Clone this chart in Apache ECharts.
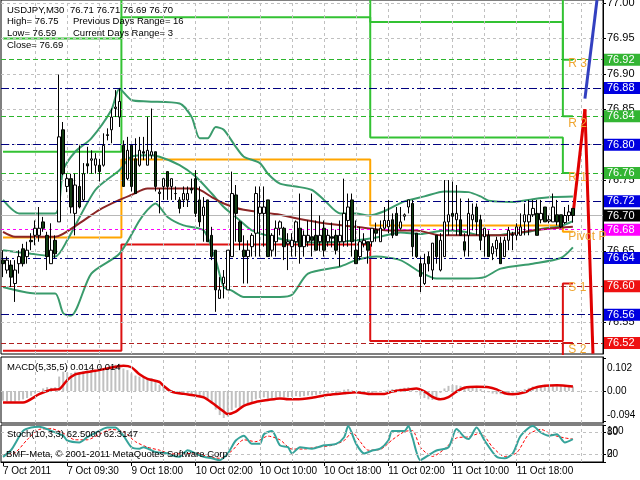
<!DOCTYPE html>
<html><head><meta charset="utf-8">
<script src="https://cdn.jsdelivr.net/npm/echarts@6/dist/echarts.min.js"></script>
<style>html,body{margin:0;padding:0;background:#fff}#c{width:640px;height:480px}</style>
</head><body><div id="c"></div>
<script>
// ---------- DATA ----------
const tickLabels = ['7 Oct 2011','7 Oct 09:30','9 Oct 18:00','10 Oct 02:00','10 Oct 10:00','10 Oct 18:00','11 Oct 02:00','11 Oct 10:00','11 Oct 18:00'];
const opens = [76.637,76.623,76.630,76.604,76.632,76.653,76.642,76.665,76.672,76.672,76.691,76.672,76.632,76.665,76.691,76.821,76.741,76.752,76.703,76.741,
76.722,76.773,76.778,76.771,76.771,76.771,76.814,76.821,76.851,76.839,76.799,76.752,76.799,76.780,76.771,76.790,76.771,76.785,76.790,76.731,
76.741,76.762,76.741,76.731,76.722,76.722,76.722,76.738,76.752,76.722,76.700,76.722,76.672,76.651,76.583,76.604,76.595,76.642,76.729,76.691,
76.651,76.642,76.656,76.675,76.703,76.703,76.722,76.651,76.663,76.682,76.682,76.660,76.656,76.663,76.682,76.656,76.663,76.670,76.672,76.663,
76.682,76.663,76.670,76.672,76.663,76.663,76.693,76.722,76.651,76.642,76.660,76.663,76.663,76.680,76.663,76.682,76.684,76.694,76.703,76.682,
76.699,76.712,76.717,76.675,76.632,76.604,76.642,76.623,76.672,76.623,76.642,76.691,76.703,76.694,76.694,76.663,76.672,76.694,76.712,76.694,
76.670,76.672,76.646,76.653,76.661,76.642,76.665,76.673,76.672,76.672,76.691,76.691,76.701,76.703,76.694,76.712,76.692,76.691,76.701,76.701,
76.690,76.700,76.710];
const highs = [76.651,76.642,76.637,76.637,76.651,76.660,76.663,76.675,76.693,76.712,76.698,76.677,76.689,76.672,76.899,76.832,76.759,76.759,76.759,76.799,
76.774,76.797,76.792,76.788,76.780,76.816,76.823,76.851,76.877,76.879,76.806,76.811,76.799,76.809,76.811,76.811,76.839,76.851,76.790,76.738,
76.752,76.762,76.752,76.741,76.726,76.741,76.741,76.752,76.764,76.741,76.726,76.722,76.684,76.651,76.613,76.623,76.651,76.762,76.743,76.693,
76.672,76.665,76.675,76.741,76.741,76.741,76.722,76.675,76.693,76.693,76.684,76.675,76.675,76.693,76.731,76.679,76.693,76.731,76.693,76.700,
76.693,76.680,76.690,76.680,76.693,76.752,76.731,76.731,76.693,76.684,76.675,76.663,76.682,76.690,76.693,76.712,76.722,76.703,76.712,76.712,
76.703,76.722,76.722,76.675,76.642,76.646,76.649,76.661,76.672,76.675,76.750,76.750,76.748,76.743,76.724,76.675,76.724,76.717,76.717,76.701,
76.682,76.679,76.661,76.670,76.670,76.670,76.684,76.677,76.689,76.703,76.717,76.722,76.722,76.722,76.722,76.712,76.700,76.731,76.722,76.701,
76.712,76.715,76.710];
const lows = [76.613,76.618,76.599,76.578,76.618,76.628,76.632,76.651,76.658,76.663,76.677,76.623,76.632,76.640,76.691,76.757,76.733,76.703,76.672,76.710,
76.720,76.759,76.759,76.759,76.748,76.769,76.806,76.802,76.839,76.825,76.741,76.750,76.734,76.731,76.769,76.778,76.771,76.780,76.734,76.703,
76.722,76.722,76.722,76.722,76.703,76.712,76.712,76.731,76.698,76.684,76.663,76.663,76.637,76.564,76.583,76.583,76.595,76.642,76.663,76.651,
76.604,76.604,76.642,76.642,76.642,76.656,76.642,76.642,76.642,76.672,76.637,76.623,76.642,76.642,76.632,76.642,76.656,76.642,76.651,76.650,
76.642,76.656,76.655,76.645,76.628,76.656,76.656,76.642,76.632,76.637,76.655,76.632,76.656,76.663,76.663,76.680,76.675,76.668,76.672,76.680,
76.693,76.703,76.642,76.640,76.592,76.602,76.621,76.609,76.632,76.621,76.642,76.672,76.679,76.672,76.672,76.642,76.642,76.679,76.672,76.651,
76.642,76.642,76.637,76.642,76.632,76.642,76.651,76.651,76.665,76.672,76.672,76.672,76.698,76.672,76.689,76.691,76.689,76.691,76.686,76.682,
76.688,76.692,76.690];
const closes = [76.632,76.637,76.613,76.623,76.642,76.632,76.651,76.663,76.682,76.682,76.682,76.642,76.651,76.646,76.811,76.759,76.752,76.712,76.743,76.712,
76.759,76.770,76.780,76.780,76.762,76.799,76.813,76.839,76.853,76.861,76.741,76.792,76.741,76.731,76.792,76.788,76.792,76.790,76.741,76.733,
76.752,76.741,76.752,76.731,76.710,76.731,76.731,76.736,76.703,76.691,76.712,76.663,76.642,76.595,76.595,76.613,76.651,76.731,76.703,76.663,
76.642,76.651,76.672,76.731,76.712,76.712,76.642,76.672,76.682,76.691,76.656,76.663,76.665,76.691,76.656,76.672,76.672,76.665,76.651,76.672,
76.651,76.672,76.668,76.651,76.672,76.703,76.712,76.663,76.632,76.663,76.665,76.651,76.682,76.675,76.682,76.693,76.693,76.672,76.672,76.691,
76.701,76.722,76.656,76.642,76.614,76.632,76.632,76.661,76.642,76.665,76.691,76.701,76.699,76.703,76.672,76.651,76.703,76.701,76.691,76.665,
76.682,76.642,76.656,76.665,76.632,76.665,76.679,76.672,76.684,76.684,76.701,76.701,76.710,76.672,76.703,76.691,76.694,76.712,76.691,76.684,
76.700,76.705,76.700];

// Bollinger bands and moving average, read at selected bars: [bar, price]
const bandUpper = [[0,76.722],[4,76.703],[13,76.703],[15,76.764],[18,76.790],[22,76.809],[27,76.849],[29,76.879],[32,76.863],[36,76.861],[44,76.858],[47,76.839],[49,76.809],[51,76.809],[53,76.825],[55,76.821],[58,76.797],[60,76.783],[64,76.774],[66,76.759],[69,76.745],[73,76.741],[77,76.736],[80,76.722],[84,76.703],[88,76.703],[91,76.700],[95,76.706],[100,76.720],[105,76.727],[110,76.734],[116,76.733],[119,76.727],[121,76.721],[127,76.719],[132,76.723],[137,76.726],[142,76.727]];
const bandMiddle = [[0,76.651],[7,76.646],[13,76.642],[16,76.665],[23,76.736],[29,76.764],[32,76.783],[36,76.785],[39,76.783],[44,76.771],[48,76.755],[52,76.731],[55,76.712],[59,76.693],[62,76.679],[67,76.670],[73,76.663],[80,76.662],[88,76.665],[94,76.670],[99,76.676],[104,76.674],[110,76.679],[115,76.677],[119,76.672],[123,76.672],[127,76.675],[131,76.677],[135,76.682],[139,76.685],[142,76.692]];
const bandLower = [[0,76.599],[8,76.590],[13,76.590],[15,76.562],[17,76.559],[22,76.618],[29,76.646],[34,76.693],[36,76.708],[38,76.717],[41,76.698],[45,76.686],[50,76.679],[53,76.637],[55,76.599],[57,76.594],[60,76.585],[69,76.585],[72,76.588],[76,76.618],[84,76.628],[88,76.637],[93,76.642],[99,76.637],[104,76.620],[108,76.611],[116,76.611],[120,76.613],[124,76.625],[132,76.632],[139,76.640],[142,76.655]];
const maLine = [[0,76.677],[3,76.670],[13,76.670],[19,76.689],[24,76.708],[29,76.722],[32,76.729],[36,76.738],[40,76.738],[48,76.738],[52,76.726],[55,76.717],[60,76.708],[69,76.701],[73,76.696],[80,76.689],[88,76.684],[96,76.679],[103,76.679],[109,76.672],[124,76.672],[132,76.679],[142,76.684]];

// Daily pivot levels (first bar of each day)
const dayStart = [0, 30, 92, 140];
const pivotP = [76.669, 76.779, 76.686, 76.677];
const res1 = [76.79, 76.98, 76.81, 76.76];
const res2 = [76.95, 77.10, 76.973, 76.84];
const res3 = [77.07, 77.22, 77.10, 76.92];
const sup1 = [76.509, 76.659, 76.523, 76.604];
const sup2 = [76.388, 76.459, 76.399, 76.52];

// Current-day level lines
const levelValues = [76.92, 76.88, 76.84, 76.80, 76.76, 76.72, 76.70, 76.68, 76.64, 76.60, 76.56, 76.52];
const levelKinds  = ['R','M','R','M','R','M','B','P','M','S','M','S'];
const levelNames = ['R 3','R 2','R 1','Pivot P','S 1','S 2'];
const levelNamePrices = [76.915, 76.829, 76.754, 76.670, 76.598, 76.510];
const gridPrices = [76.55,76.60,76.65,76.70,76.75,76.80,76.85,76.90,76.95,77.00];

// Drawn arrows: [bar, price]
const redPath = [[142,76.70],[145,76.85],[147,76.505]];
const bluePath = [[145,76.865],[148,77.004]];

// MACD(5,35,5)
const macdMain = [-0.030,-0.032,-0.034,-0.033,-0.030,-0.026,-0.022,-0.015,-0.008,0.000,0.008,0.012,0.010,0.012,0.045,0.060,0.058,0.056,0.060,0.058,
0.062,0.064,0.066,0.065,0.066,0.070,0.072,0.078,0.082,0.085,0.070,0.065,0.055,0.048,0.045,0.042,0.040,0.040,0.030,0.020,
0.012,0.008,0.003,-0.002,-0.006,-0.008,-0.008,-0.010,-0.014,-0.018,-0.020,-0.028,-0.040,-0.058,-0.075,-0.084,-0.080,-0.060,-0.052,-0.050,
-0.046,-0.040,-0.034,-0.026,-0.022,-0.020,-0.024,-0.022,-0.020,-0.018,-0.020,-0.020,-0.018,-0.016,-0.018,-0.016,-0.014,-0.014,-0.012,-0.010,
-0.008,-0.006,-0.004,-0.006,-0.004,0.004,0.006,0.002,-0.004,-0.006,-0.006,-0.008,-0.006,-0.004,-0.002,0.002,0.004,0.006,0.006,0.008,
0.010,0.012,0.006,-0.004,-0.014,-0.022,-0.026,-0.028,-0.020,-0.006,0.008,0.016,0.019,0.018,0.016,0.014,0.012,0.012,0.010,0.006,
0.000,-0.004,-0.008,-0.010,-0.010,-0.010,-0.008,-0.006,-0.002,0.002,0.006,0.010,0.014,0.016,0.016,0.016,0.016,0.015,0.016,0.015,
0.014,0.014,0.014];
const macdSignal = [[0,-0.036],[5,-0.036],[9,-0.010],[12,0.004],[14,0.006],[16,0.034],[18,0.052],[20,0.057],[23,0.063],[26,0.070],[30,0.079],[32,0.074],[34,0.052],[36,0.038],[39,0.028],[40,0.016],[42,-0.002],[45,-0.009],[48,-0.015],[50,-0.020],[52,-0.036],[55,-0.064],[56,-0.072],[58,-0.064],[60,-0.046],[63,-0.034],[66,-0.028],[69,-0.023],[71,-0.026],[73,-0.026],[77,-0.021],[81,-0.012],[85,-0.007],[88,-0.004],[91,-0.009],[95,-0.009],[97,-0.002],[101,0.005],[103,0.008],[105,-0.001],[107,-0.018],[109,-0.026],[111,-0.019],[113,-0.002],[115,0.010],[118,0.013],[121,0.012],[123,0.005],[125,-0.007],[127,-0.010],[130,-0.004],[132,0.008],[135,0.016],[138,0.018],[142,0.014]];
const macdTicks = [0.102, 0, -0.094];

// Stochastic(10,3,3)
const stochMain = [[0,14],[2,32],[5,84],[7,93],[9,95],[11,89],[12,84],[15,71],[16,58],[19,53],[21,67],[24,84],[26,93],[28,93],[30,71],[32,40],[34,36],[35,40],[38,27],[41,23],[42,18],[44,14],[46,32],[48,23],[50,14],[52,10],[54,5],[56,23],[58,58],[60,71],[62,49],[64,49],[65,75],[67,84],[69,45],[71,40],[72,23],[74,40],[77,36],[80,45],[83,49],[85,67],[86,97],[88,49],[90,23],[92,31],[94,36],[96,58],[97,84],[100,84],[101,97],[102,67],[104,5],[106,18],[108,31],[111,40],[113,89],[115,67],[116,62],[118,93],[120,58],[123,14],[125,10],[127,23],[129,71],[132,97],[134,80],[136,71],[138,75],[140,53],[142,62]];
const stochSignal = [[0,20],[3,25],[6,60],[9,88],[12,90],[15,78],[18,60],[21,60],[24,75],[27,88],[30,82],[33,55],[36,40],[39,32],[42,22],[45,22],[48,24],[51,15],[54,10],[57,30],[60,60],[63,55],[66,70],[69,60],[72,35],[75,35],[78,40],[82,45],[85,58],[87,80],[89,55],[91,32],[94,34],[97,60],[100,82],[102,85],[104,40],[107,15],[110,35],[113,65],[116,68],[119,78],[122,40],[125,15],[128,25],[131,75],[134,88],[137,73],[140,65],[142,62]];
const stochEdgeTicks = [0, 100];
const stochLevelTicks = [20, 80];

// ---------- BUILD ----------
const N = 150, labelStep = 16, gridStep = 8;
const cats = Array.from({length: N}, (_, i) => 'b' + i);
const FONT = 'Liberation Sans';
const dayOf = i => { let d = 0; dayStart.forEach((s, k) => { if (i >= s) d = k; }); return d; };
const stepData = arr => opens.map((_, i) => arr[dayOf(i)]);
const candleData = opens.map((o, i) => [o, closes[i], lows[i], highs[i]]);
const vLines = [];
for (let i = gridStep; i < N; i += gridStep) vLines.push({xAxis: i});
const gridLine = {color: '#C0C0C0', type: [3, 3], width: 1};
const kindStyle = {
  R: {c: '#2DB52D', t: [5, 3], box: '#33B533'},
  M: {c: '#000080', t: [8, 3, 2, 3], box: '#0000E0'},
  B: {c: '#B8B8B8', t: 'solid', box: '#000000'},
  P: {c: '#FF00FF', t: [3, 3], box: '#FF00FF'},
  S: {c: '#B02020', t: [5, 3], box: '#EE1111'}
};
const levelMarks = levelValues.map((v, k) => {
  const s = kindStyle[levelKinds[k]];
  return {yAxis: v, lineStyle: {color: s.c, type: s.t, width: 1},
    label: {show: true, position: 'end', distance: 1, formatter: v.toFixed(2), color: '#fff', backgroundColor: s.box,
      fontFamily: FONT, fontSize: 11, padding: [1, 6, 0, 3], width: 27}};
});
const nameMarks = levelNamePrices.map((p, k) => ({coord: [140, p], name: levelNames[k]}));
const arrowSeg = (path, color) => {
  const segs = [];
  for (let k = 0; k < path.length - 1; k++)
    segs.push([{coord: path[k], lineStyle: {color, width: 3, type: 'solid'}}, {coord: path[k + 1]}]);
  return segs;
};
const stepSeries = (arr, color) => ({type: 'line', xAxisIndex: 0, yAxisIndex: 0, data: stepData(arr), step: 'middle',
  symbol: 'none', clip: true, z: 3, lineStyle: {color, width: 2}, silent: true});
const lineSeries = (data, color, width, xi, z, extra) => Object.assign({type: 'line', xAxisIndex: xi, yAxisIndex: xi, data,
  symbol: 'none', smooth: 0.25, clip: true, z, silent: true, lineStyle: {color, width}}, extra || {});

const baseX = (gi, showLabels) => ({
  type: 'category', gridIndex: gi, data: cats, boundaryGap: true,
  axisLine: {show: showLabels, lineStyle: {color: '#000'}},
  axisTick: {show: showLabels, alignWithLabel: true, length: 4, interval: i => i % labelStep === 0 && i / labelStep < tickLabels.length, lineStyle: {color: '#000'}},
  axisLabel: {show: showLabels, interval: i => i % labelStep === 0 && i / labelStep < tickLabels.length,
    formatter: (v, i) => tickLabels[i / labelStep] || '', align: 'left', margin: 4, color: '#000', fontFamily: FONT, fontSize: 10, hideOverlap: false},
  splitLine: {show: false}
});
const axisLbl = {color: '#000', fontFamily: FONT, fontSize: 10, margin: 4, hideOverlap: false};

const option = {
  animation: false,
  backgroundColor: '#fff',
  textStyle: {fontFamily: FONT},
  title: [
    {text: 'USDJPY,M30', left: 7, top: 5},
    {text: '76.71 76.71 76.69 76.70', left: 70, top: 5},
    {text: 'High= 76.75', left: 7, top: 16},
    {text: 'Previous Days Range= 16', left: 73, top: 16},
    {text: 'Low= 76.59', left: 7, top: 28},
    {text: 'Current Days Range= 3', left: 73, top: 28},
    {text: 'Close= 76.69', left: 7, top: 40},
    {text: 'MACD(5,35,5) 0.014 0.014', left: 7, top: 362},
    {text: 'Stoch(10,3,3) 62.5000 62.3147', left: 7, top: 429},
    {text: 'BMF-Meta, \u00A9 2001-2011 MetaQuotes Software Corp.', left: 6, top: 449}
  ].map(t => Object.assign({padding: 0, z: 20, textStyle: {fontSize: 9.5, fontWeight: 'normal', color: '#000', fontFamily: FONT}}, t)),
  grid: [
    {left: 1, top: 0, width: 602, height: 354, show: true, borderColor: '#000', borderWidth: 1, backgroundColor: 'transparent', outerBoundsMode: 'none'},
    {left: 1, top: 357, width: 602, height: 66, show: true, borderColor: '#000', borderWidth: 1, backgroundColor: 'transparent', outerBoundsMode: 'none'},
    {left: 1, top: 425, width: 602, height: 37, show: true, borderColor: '#000', borderWidth: 1, backgroundColor: 'transparent', outerBoundsMode: 'none'}
  ],
  xAxis: [baseX(0, false), baseX(1, false), baseX(2, true)],
  yAxis: [
    {type: 'value', gridIndex: 0, position: 'right', min: 76.5045, max: 77.0042, scale: true,
      axisLine: {show: true, lineStyle: {color: '#000'}}, splitLine: {show: false},
      axisTick: {show: true, length: 3, customValues: gridPrices, lineStyle: {color: '#000'}},
      axisLabel: Object.assign({}, axisLbl, {customValues: gridPrices, formatter: v => v.toFixed(2), fontSize: 11})},
    {type: 'value', gridIndex: 1, position: 'right', min: -0.0997, max: 0.1059,
      axisLine: {show: true, lineStyle: {color: '#000'}}, splitLine: {show: false},
      axisTick: {show: true, length: 3, customValues: macdTicks, lineStyle: {color: '#000'}},
      axisLabel: Object.assign({}, axisLbl, {customValues: macdTicks,
        formatter: v => v > 0 ? '{dn|' + v.toFixed(3) + '}' : v < 0 ? '{up|' + v.toFixed(3) + '}' : '0.00',
        rich: {dn: {padding: [20, 0, 0, 0], fontSize: 10, color: '#000'}, up: {padding: [0, 0, 12, 0], fontSize: 10, color: '#000'}}})},
    {type: 'value', gridIndex: 2, position: 'right', min: 0, max: 100,
      axisLine: {show: true, lineStyle: {color: '#000'}}, splitLine: {show: false},
      axisTick: {show: true, length: 3, customValues: stochEdgeTicks, lineStyle: {color: '#000'}},
      axisLabel: Object.assign({}, axisLbl, {customValues: stochEdgeTicks, showMinLabel: true, showMaxLabel: true,
        formatter: v => v === 100 ? '{dn|100}' : '{up|0}',
        rich: {dn: {padding: [12, 0, 0, 0], fontSize: 10, color: '#000'}, up: {padding: [0, 0, 16, 0], fontSize: 10, color: '#000'}}})},
    {type: 'value', gridIndex: 2, position: 'right', min: 0, max: 100,
      axisLine: {show: false}, splitLine: {show: false},
      axisTick: {show: true, length: 3, customValues: stochLevelTicks, lineStyle: {color: '#000'}},
      axisLabel: Object.assign({}, axisLbl, {customValues: stochLevelTicks, formatter: v => String(v)})}
  ],
  series: [
    {type: 'line', xAxisIndex: 0, yAxisIndex: 0, data: [], z: 1, silent: true,
      markLine: {silent: true, symbol: 'none', label: {show: false}, lineStyle: gridLine,
        data: vLines.concat(gridPrices.map(p => ({yAxis: p})))}},
    {type: 'line', xAxisIndex: 0, yAxisIndex: 0, data: [], z: 2, silent: true,
      markLine: {silent: true, symbol: 'none', data: levelMarks}},
    stepSeries(pivotP, '#FFA500'),
    stepSeries(res1, '#33C233'),
    stepSeries(res2, '#33C233'),
    stepSeries(res3, '#33C233'),
    stepSeries(sup1, '#DD1111'),
    stepSeries(sup2, '#DD1111'),
    lineSeries(bandUpper, '#3A9B6C', 2, 0, 4),
    lineSeries(bandMiddle, '#3A9B6C', 2, 0, 4),
    lineSeries(bandLower, '#3A9B6C', 2, 0, 4),
    lineSeries(maLine, '#8B2525', 2, 0, 4),
    {type: 'candlestick', xAxisIndex: 0, yAxisIndex: 0, data: candleData, barWidth: 3, z: 5, silent: true,
      itemStyle: {color: '#FFFFFF', color0: '#123D12', borderColor: '#000', borderColor0: '#000', borderColorDoji: '#000', borderWidth: 1}},
    // level names
    {type: 'line', xAxisIndex: 0, yAxisIndex: 0, data: [], z: 6, silent: true,
      markPoint: {silent: true, symbol: 'circle', symbolSize: 1, itemStyle: {color: 'rgba(0,0,0,0)'},
        label: {show: true, position: 'right', distance: 3, formatter: p => p.name, color: '#EFA530', opacity: 1, fontFamily: FONT, fontSize: 12},
        data: nameMarks}},
    {type: 'line', xAxisIndex: 0, yAxisIndex: 0, data: [], z: 7, silent: true,
      markLine: {silent: true, symbol: ['none', 'arrow'], symbolSize: [1, 11], label: {show: false},
        data: arrowSeg(redPath, '#E00000').concat(arrowSeg(bluePath, '#3340C0'))}},
    {type: 'line', xAxisIndex: 1, yAxisIndex: 1, data: [], z: 1, silent: true,
      markLine: {silent: true, symbol: 'none', label: {show: false}, lineStyle: gridLine, data: vLines.concat([{yAxis: 0}])}},
    {type: 'bar', xAxisIndex: 1, yAxisIndex: 1, data: macdMain, barWidth: 2, z: 2, silent: true, itemStyle: {color: '#C0C0C0'}},
    lineSeries(macdSignal, '#E00000', 2.5, 1, 3),
    {type: 'line', xAxisIndex: 2, yAxisIndex: 2, data: [], z: 1, silent: true,
      markLine: {silent: true, symbol: 'none', label: {show: false}, lineStyle: gridLine, data: vLines.concat([{yAxis: 20}, {yAxis: 80}])}},
    lineSeries(stochSignal, '#FF0000', 1, 2, 2, {lineStyle: {color: '#FF0000', width: 1, type: [3, 2]}}),
    lineSeries(stochMain, '#35A39A', 2, 2, 3)
  ]
};
const chart = echarts.init(document.getElementById('c'), null, {renderer: 'canvas', width: 640, height: 480});
chart.setOption(option);
</script>
</body></html>
